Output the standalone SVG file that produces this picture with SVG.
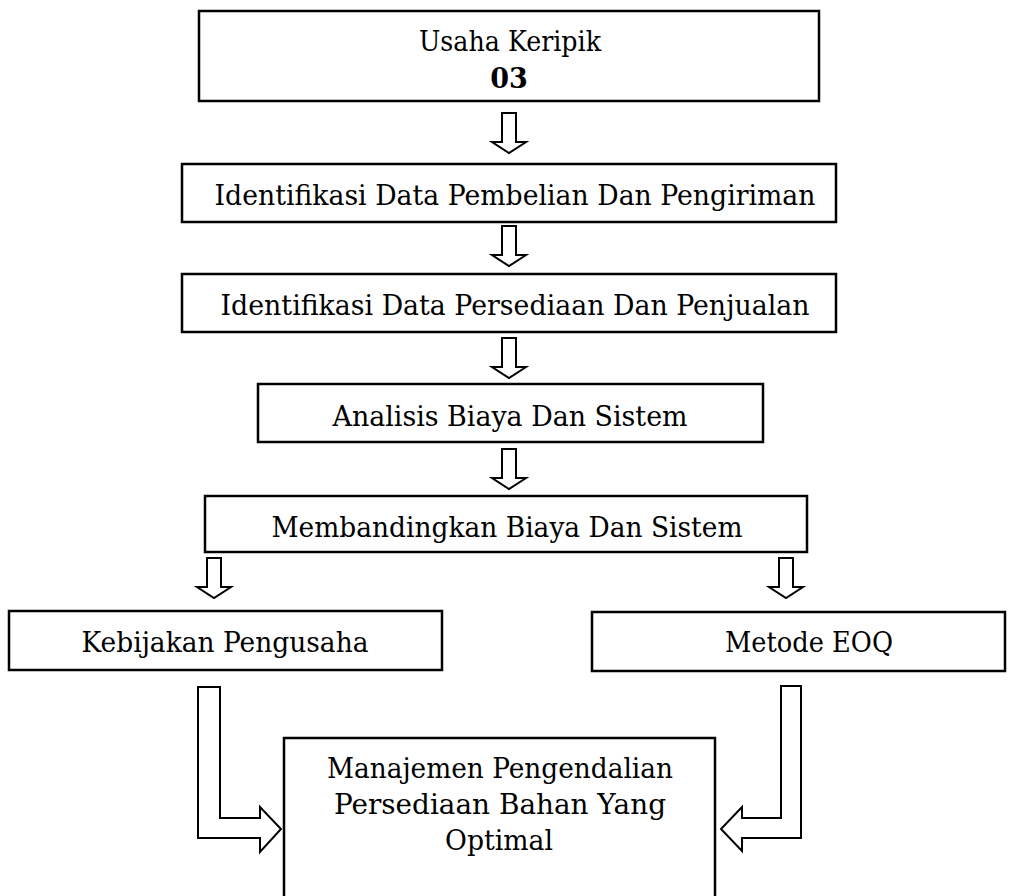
<svg xmlns="http://www.w3.org/2000/svg" xmlns:xlink="http://www.w3.org/1999/xlink" width="1013" height="896" viewBox="0 0 1013 896">
<style>
.box{fill:#fff;stroke:#000;stroke-width:2.5}
.t{font-family:"DejaVu Serif","Liberation Serif",serif;font-size:27px;fill:#000;text-anchor:middle}
.b{font-weight:bold}
.arr{fill:#fff;stroke:#000;stroke-width:2;stroke-linejoin:miter}
</style>
<defs>
<path id="down" d="M-7,0 H7 V29 H17 L0,40 L-17,29 H-7 Z"/>
</defs>
<rect width="1013" height="896" fill="#fff"/>
<g id="connectors">
<use href="#down" class="arr" x="509" y="113"/>
<use href="#down" class="arr" x="509" y="226"/>
<use href="#down" class="arr" x="509" y="338"/>
<use href="#down" class="arr" x="509" y="449"/>
<use href="#down" class="arr" x="214" y="558"/>
<use href="#down" class="arr" x="786" y="558"/>
<path class="arr" d="M198,687 H220 V818 H260 V807 L281,829 L260,852 V838 H198 Z"/>
<path class="arr" d="M801,686 H781 V818 H742 V807 L721,829 L742,851 V838 H801 Z"/>
</g>
<g id="n1"><rect class="box" x="199" y="11" width="620" height="90"/>
<text class="t" x="510" y="51" textLength="182" lengthAdjust="spacingAndGlyphs">Usaha Keripik</text>
<text class="t b" x="509" y="88">03</text></g>
<g id="n2"><rect class="box" x="182" y="164" width="654" height="58"/>
<text class="t" x="515" y="205" textLength="601" lengthAdjust="spacingAndGlyphs">Identifikasi Data Pembelian Dan Pengiriman</text></g>
<g id="n3"><rect class="box" x="182" y="274" width="654" height="58"/>
<text class="t" x="515" y="315" textLength="589" lengthAdjust="spacingAndGlyphs">Identifikasi Data Persediaan Dan Penjualan</text></g>
<g id="n4"><rect class="box" x="258" y="384" width="505" height="58"/>
<text class="t" x="510" y="426" textLength="355" lengthAdjust="spacingAndGlyphs">Analisis Biaya Dan Sistem</text></g>
<g id="n5"><rect class="box" x="205" y="496" width="602" height="56"/>
<text class="t" x="507" y="537" textLength="471" lengthAdjust="spacingAndGlyphs">Membandingkan Biaya Dan Sistem</text></g>
<g id="n6"><rect class="box" x="9" y="611" width="433" height="59"/>
<text class="t" x="225" y="652" textLength="287" lengthAdjust="spacingAndGlyphs">Kebijakan Pengusaha</text></g>
<g id="n7"><rect class="box" x="592" y="612" width="413" height="59"/>
<text class="t" x="809" y="652" textLength="168" lengthAdjust="spacingAndGlyphs">Metode EOQ</text></g>
<g id="n8"><rect class="box" x="284" y="738" width="431" height="170"/>
<text class="t" x="500" y="778" textLength="346" lengthAdjust="spacingAndGlyphs">Manajemen Pengendalian</text>
<text class="t" x="500" y="814" textLength="332" lengthAdjust="spacingAndGlyphs">Persediaan Bahan Yang</text>
<text class="t" x="499" y="850" textLength="108" lengthAdjust="spacingAndGlyphs">Optimal</text></g>
</svg>
